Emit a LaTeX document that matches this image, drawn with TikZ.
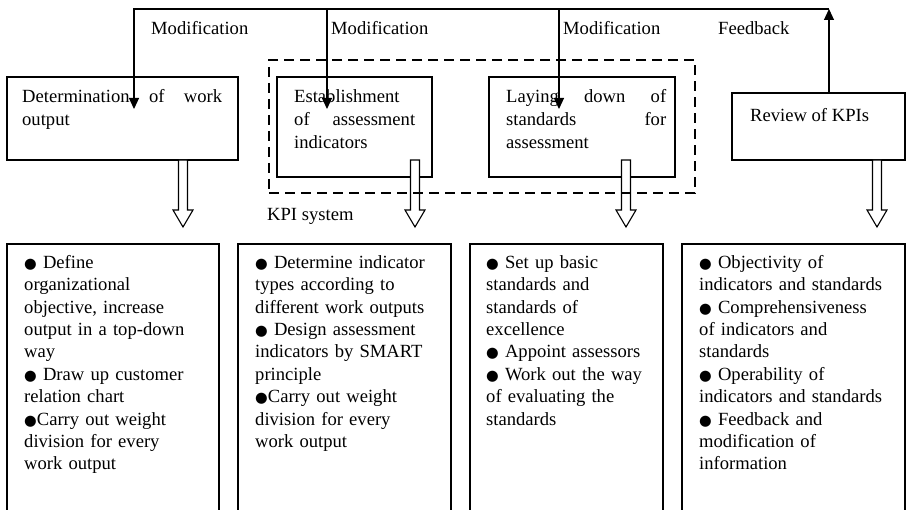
\documentclass[tikz,border=0pt]{standalone}
\usepackage{fontspec}
\setmainfont{Liberation Serif}
\newfontfamily\symf{DejaVu Sans}[Scale=0.78]
\usetikzlibrary{calc,arrows.meta}
\newcommand\bul{{\symf ●}}
\newcommand\fstop{\fontsize{18.6}{23}\selectfont}
\newcommand\fsbot{\fontsize{18.6}{22.4}\selectfont}
% hollow block arrow: #1 = start, #2 = tip
\newcommand\hollowarrow[2]{%
  \filldraw[hollow] ($(#1)+(-4.5,0)$) -- ($(#2)+(-4.5,-17)$) -- ($(#2)+(-10,-17)$)
    -- (#2) -- ($(#2)+(10,-17)$) -- ($(#2)+(4.5,-17)$) -- ($(#1)+(4.5,0)$) -- cycle;}
\tikzset{
  box/.style={draw, line width=1.1pt, inner sep=0pt, outer sep=0pt},
  kpibox/.style={draw, line width=2.2pt, dash pattern=on 10pt off 6pt, inner sep=0pt},
  txttop/.style={anchor=north west, inner sep=0pt, align=left, font=\fstop},
  txtbot/.style={anchor=north west, inner sep=0pt, align=left, font=\fsbot, text width=240pt},
  lbl/.style={anchor=base west, inner sep=0pt, font=\fstop},
  conn/.style={line width=1.1pt, -{Triangle[length=11pt,width=10pt]}},
  hollow/.style={fill=white, line width=1.1pt}
}
\begin{document}
\begin{tikzpicture}[x=1pt, y=-1pt]
\clip (0,0) rectangle (906,510);
\fill[white] (0,0) rectangle (906,510);

% upper boxes
\node[box, minimum width=231pt, minimum height=83pt] (b1) at (122.5,118.5) {};
\node[box, minimum width=155pt, minimum height=100pt] (b2) at (354.5,127) {};
\node[box, minimum width=186pt, minimum height=100pt] (b3) at (582,127) {};
\node[box, minimum width=173pt, minimum height=67pt] (b4) at (818.5,126.5) {};

% lower boxes (run past the lower edge)
\node[box, minimum width=212pt, minimum height=286pt] (d1) at (113,387) {};
\node[box, minimum width=213pt, minimum height=286pt] (d2) at (344.5,387) {};
\node[box, minimum width=193pt, minimum height=286pt] (d3) at (566.5,387) {};
\node[box, minimum width=223pt, minimum height=286pt] (d4) at (793.5,387) {};

% upper box texts
\node[txttop, text width=200pt] (t1) at (22,86) {\strut Determination\hfill of\hfill work\\output};
\node[txttop, text width=121pt] (t2) at (294,86) {\strut Establishment\\of\hfill assessment\\indicators};
\node[txttop, text width=160pt] (t3) at (506,86) {\strut Laying\hfill down\hfill of\\standards\hfill for\\assessment};
\node[txttop] (t4) at (750,105) {\strut Review of KPIs};

% lower box texts
\node[txtbot] (s1) at (24,252.5) {\strut\bul{} Define\\organizational\\objective, increase\\output in a top-down\\way\\\bul{} Draw up customer\\relation chart\\\bul Carry out weight\\division for every\\work output};
\node[txtbot] (s2) at (255,252.5) {\strut\bul{} Determine indicator\\types according to\\different work outputs\\\bul{} Design assessment\\indicators by SMART\\principle\\\bul Carry out weight\\division for every\\work output};
\node[txtbot] (s3) at (486,252.5) {\strut\bul{} Set up basic\\standards and\\standards of\\excellence\\\bul{} Appoint assessors\\\bul{} Work out the way\\of evaluating the\\standards};
\node[txtbot] (s4) at (699,252.5) {\strut\bul{} Objectivity of\\indicators and standards\\\bul{} Comprehensiveness\\of indicators and\\standards\\\bul{} Operability of\\indicators and standards\\\bul{} Feedback and\\modification of\\information};

% feedback / modification loop
\coordinate (top1) at (134,9);
\coordinate (top2) at (327,9);
\coordinate (top3) at (559,9);
\coordinate (top4) at (829,9);
\coordinate (m1) at (134,109);
\coordinate (m2) at (327,109);
\coordinate (m3) at (559,109);
\draw[conn] (b4.north -| top4) -- (top4);
\draw[conn] (top4) -- (top1) -- (m1);
\draw[conn] (top2) -- (m2);
\draw[conn] (top3) -- (m3);

\node[lbl] (l1) at (151,35) {Modification};
\node[lbl] (l2) at (331,35) {Modification};
\node[lbl] (l3) at (563,35) {Modification};
\node[lbl] (l4) at (718,35) {Feedback};

% block arrows down to the task lists
\coordinate (h1) at (183,227);
\coordinate (h2) at (415,227);
\coordinate (h3) at (626,227);
\coordinate (h4) at (877,227);
\hollowarrow{h1 |- b1.south}{h1}
\hollowarrow{h2 |- b1.south}{h2}
\hollowarrow{h3 |- b1.south}{h3}
\hollowarrow{h4 |- b4.south}{h4}

% KPI system frame
\node[kpibox, minimum width=426pt, minimum height=133pt] (kpi) at (482,126.5) {};
\node[lbl] (kl) at (267,221) {KPI system};
\end{tikzpicture}
\end{document}
